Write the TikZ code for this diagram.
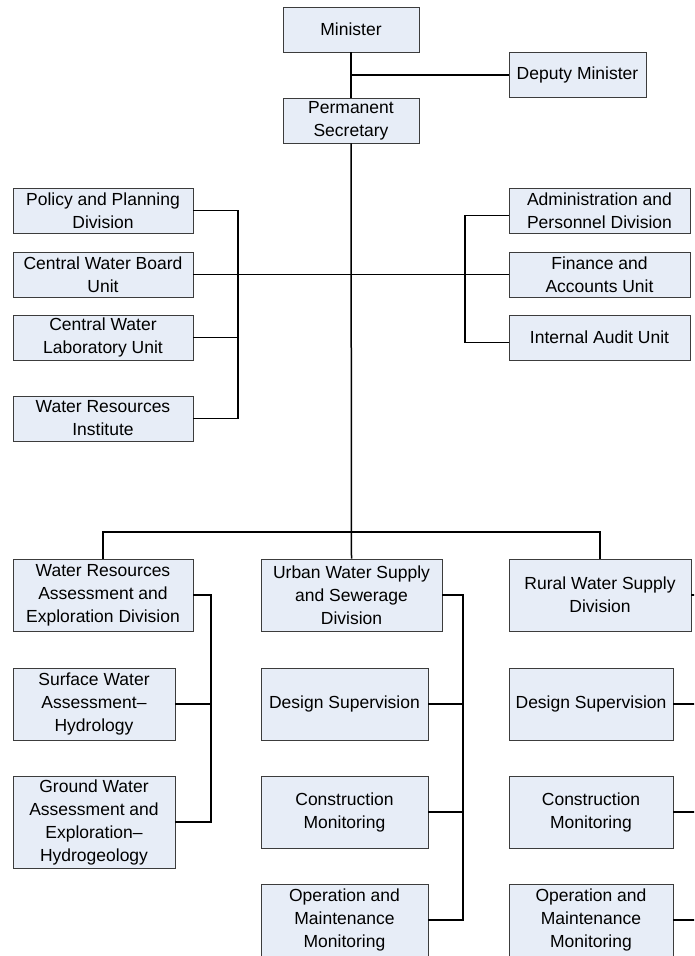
\documentclass[tikz,border=0pt]{standalone}
\usepackage{fontspec}
\setmainfont{Liberation Sans}
\usetikzlibrary{positioning}
\definecolor{unitfill}{RGB}{231,237,247}
\definecolor{unitline}{RGB}{60,60,60}

\begin{document}
\begin{tikzpicture}[
  x=1pt, y=-1pt,
  unit/.style={draw=unitline, fill=unitfill, line width=0.9pt, inner sep=2pt, align=center,
    minimum height=45pt, font=\fontsize{17.5}{23}\selectfont},
  tall/.style={unit, minimum height=72pt},
  link/.style={line width=1.5pt, black}
]
\clip (0,0) rectangle (694,956);

\node[unit, minimum width=136pt] (minister) at (351,29.5) {Minister};
\node[unit, minimum width=137pt] (deputy) at (577.5,75) {Deputy Minister};
\node[unit, minimum width=136pt] (permsec) at (351,120.5) {Permanent\\Secretary};

\node[unit, minimum width=180pt] (policy) at (103,210.5) {Policy and Planning\\Division};
\node[unit, minimum width=180pt] (board) at (103,274.5) {Central Water Board\\Unit};
\node[unit, minimum width=180pt] (lab) at (103,337.5) {Central Water\\Laboratory Unit};
\node[unit, minimum width=180pt] (institute) at (103,418.5) {Water Resources\\Institute};

\node[unit, minimum width=181pt] (admin) at (599.5,210.5) {Administration and\\Personnel Division};
\node[unit, minimum width=181pt] (finance) at (599.5,274.5) {Finance and\\Accounts Unit};
\node[unit, minimum width=181pt] (audit) at (599.5,337.5) {Internal Audit Unit};

\node[tall, minimum width=180pt] (wrae) at (103,595) {Water Resources\\Assessment and\\Exploration Division};
\node[tall, minimum width=162pt] (surface) at (94,704) {Surface Water\\Assessment--\\Hydrology};
\node[tall, minimum width=162pt, minimum height=92pt] (ground) at (94,822) {Ground Water\\Assessment and\\Exploration--\\Hydrogeology};

\node[tall, minimum width=181pt] (urban) at (351.5,595) {Urban Water Supply\\and Sewerage\\Division};
\node[tall, minimum width=167pt] (udesign) at (344.5,704) {Design Supervision};
\node[tall, minimum width=167pt] (uconstr) at (344.5,812) {Construction\\Monitoring};
\node[tall, minimum width=167pt] (uom) at (344.5,920) {Operation and\\Maintenance\\Monitoring};

\node[tall, minimum width=182pt] (rural) at (600,595) {Rural Water Supply\\Division};
\node[tall, minimum width=164pt] (rdesign) at (591,704) {Design Supervision};
\node[tall, minimum width=164pt] (rconstr) at (591,812) {Construction\\Monitoring};
\node[tall, minimum width=164pt] (rom) at (591,920) {Operation and\\Maintenance\\Monitoring};

\coordinate (lbus) at (238,274.5);
\coordinate (rbus) at (465,274.5);
\coordinate (split) at (351,532);
\coordinate (wbus) at (211,704);
\coordinate (ubus) at (463,812);
\coordinate (rrbus) at (695.5,812);

\draw[link] (minister) -- (permsec);
\draw[link] (deputy.west) -- (deputy.west -| minister.south);
\draw[link] (permsec.south) -- (urban.north);
\draw[link] (wrae.north) |- (split) -| (rural.north);
\draw[link] (board.east) -- (finance.west);
\draw[link] (policy.east) -| (lbus) |- (institute.east);
\draw[link] (lab.east) -- (lab.east -| lbus);
\draw[link] ([yshift=-5pt]admin.west) -| (rbus) |- ([yshift=-5pt]audit.west);
\draw[link] (wrae.east) -| (wbus) |- (ground.east);
\draw[link] (surface.east) -- (wbus);
\draw[link] (urban.east) -| (ubus) |- (uom.east);
\draw[link] (udesign.east) -- (udesign.east -| ubus);
\draw[link] (uconstr.east) -- (ubus);
\draw[link] (rural.east) -| (rrbus) |- (rom.east);
\draw[link] (rdesign.east) -- (rdesign.east -| rrbus);
\draw[link] (rconstr.east) -- (rrbus);
\end{tikzpicture}
\end{document}
